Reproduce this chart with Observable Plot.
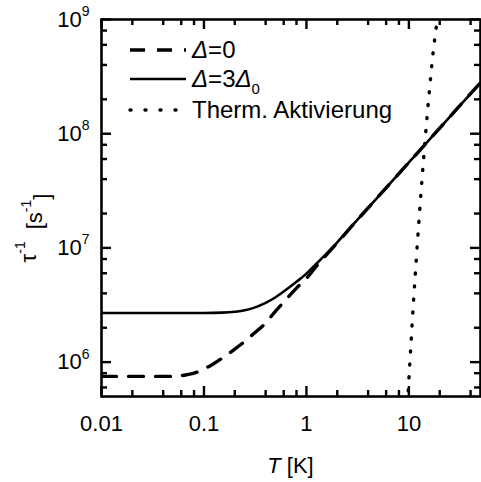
<!DOCTYPE html>
<html>
<head>
<meta charset="utf-8">
<script src="https://cdn.jsdelivr.net/npm/d3@7"></script>
<script src="https://cdn.jsdelivr.net/npm/@observablehq/plot@0.6"></script>
<style>
  html, body { margin: 0; padding: 0; background: #fff; overflow: hidden; }
  #chart svg { display: block; }
</style>
</head>
<body>
<div id="chart"></div>
<script>
// ---- data ----
const xTicks = [0.01, 0.1, 1, 10];
const yTicks = [1e6, 1e7, 1e8, 1e9];
const minorMult = [2, 4, 6, 8];

// Delta = 0 (dashed)
const T_d0 = [0.01, 0.02, 0.03, 0.04, 0.05, 0.06, 0.07, 0.08, 0.1, 0.12, 0.15, 0.2, 0.25, 0.3, 0.4, 0.5, 0.6, 0.8, 1, 1.2, 1.5, 2, 3, 5, 7, 10, 15, 20, 30, 50];
const V_d0 = [7.5e5, 7.5e5, 7.5e5, 7.5e5, 7.5e5, 7.6e5, 7.8e5, 8.0e5, 8.7e5, 9.5e5, 1.08e6, 1.3e6, 1.52e6, 1.75e6, 2.2e6, 2.8e6, 3.35e6, 4.45e6, 5.4e6, 6.6e6, 8.3e6, 1.11e7, 1.68e7, 2.8e7, 3.92e7, 5.6e7, 8.4e7, 1.12e8, 1.68e8, 2.8e8];

// Delta = 3 Delta_0 (solid)
const T_d3 = [0.01, 0.02, 0.05, 0.1, 0.15, 0.2, 0.25, 0.3, 0.4, 0.5, 0.6, 0.8, 1, 1.2, 1.5, 2, 3, 5, 7, 10, 15, 20, 30, 50];
const V_d3 = [2.69e6, 2.69e6, 2.69e6, 2.69e6, 2.71e6, 2.76e6, 2.84e6, 2.97e6, 3.3e6, 3.7e6, 4.15e6, 5.05e6, 5.95e6, 7.0e6, 8.55e6, 1.12e7, 1.68e7, 2.8e7, 3.92e7, 5.6e7, 8.4e7, 1.12e8, 1.68e8, 2.8e8];

// Thermal activation (dotted)
const T_th = [9.7, 10.2, 10.6, 11.1, 11.7, 12.5, 13.4, 14.5, 15.8, 17.3, 18.9, 20];
const V_th = [4.3e5, 9.6e5, 1.72e6, 3.4e6, 7.0e6, 1.66e7, 3.9e7, 9.5e7, 2.3e8, 5.3e8, 1.0e9, 1.5e9];

const legendLabels = ["Δ=0", "Δ=3Δ0", "Therm. Aktivierung"];

// ---- layout ----
const W = 481, H = 482;
const mL = 101, mT = 19, mR = 1, mB = 86;
const fw = W - mL - mR, fh = H - mT - mB;
const FONT = "'Liberation Sans', Arial, sans-serif";

const rows = (T, V) => T.map((t, i) => ({T: t, v: V[i]}));
const minorX = xTicks.flatMap(d => minorMult.map(m => d * m)).filter(v => v < 50);
const minorY = [1e5, 1e6, 1e7, 1e8].flatMap(d => minorMult.map(m => d * m)).filter(v => v > 5e5 && v < 1e9);

const chart = Plot.plot({
  width: W, height: H,
  marginLeft: mL, marginTop: mT, marginRight: mR, marginBottom: mB,
  style: {fontFamily: FONT, background: "white", color: "black"},
  x: {type: "log", domain: [0.01, 50]},
  y: {type: "log", domain: [5e5, 1e9]},
  marks: [
    Plot.line(rows(T_d0, V_d0), {x: "T", y: "v", stroke: "black", strokeWidth: 3.4, strokeDasharray: "15,12", curve: "monotone-x", clip: true}),
    Plot.line(rows(T_d3, V_d3), {x: "T", y: "v", stroke: "black", strokeWidth: 2.6, curve: "monotone-x", clip: true}),
    Plot.line(rows(T_th, V_th), {x: "T", y: "v", stroke: "black", strokeWidth: 3.4, strokeDasharray: "1,12", strokeLinecap: "round", curve: "monotone-x", clip: true}),
    Plot.frame({stroke: "black", strokeWidth: 2.6}),
    Plot.axisX(xTicks, {tickSize: 0, tickPadding: 19, fontSize: 22, tickFormat: d => String(d), label: null}),
    Plot.axisY(yTicks, {tickSize: 0, tickPadding: 12, fontSize: 22, tickFormat: d => "10^" + Math.round(Math.log10(d)), label: null})
  ]
});

document.getElementById("chart").appendChild(chart);
const svg = d3.select(chart);

// inward ticks on all four sides, positioned with Plot's own scales
const sx = chart.scale("x"), sy = chart.scale("y");
const frameL = mL, frameR = W - mR, frameT = mT, frameB = H - mB;
const tg = svg.append("g").attr("stroke", "black").attr("stroke-width", 2.4).attr("fill", "none");
const addX = (vals, len) => vals.forEach(v => {
  const px = sx.apply(v) + 0.5;
  tg.append("line").attr("x1", px).attr("x2", px).attr("y1", frameB).attr("y2", frameB - len);
  tg.append("line").attr("x1", px).attr("x2", px).attr("y1", frameT).attr("y2", frameT + len);
});
const addY = (vals, len) => vals.forEach(v => {
  const py = sy.apply(v) + 0.5;
  tg.append("line").attr("y1", py).attr("y2", py).attr("x1", frameL).attr("x2", frameL + len);
  tg.append("line").attr("y1", py).attr("y2", py).attr("x1", frameR).attr("x2", frameR - len);
});
addX(xTicks, 10); addX(minorX, 6);
addY(yTicks, 10); addY(minorY, 6);

// superscripts on y tick labels
svg.selectAll('g[aria-label="y-axis tick label"] text').each(function() {
  const t = d3.select(this);
  const s = t.text();
  if (!s.includes("^")) return;
  const [base, exp] = s.split("^");
  t.text(null);
  t.append("tspan").text(base);
  t.append("tspan").attr("font-size", 14).attr("dy", "-0.75em").text(exp);
});

// axis titles
const xt = svg.append("text")
  .attr("x", mL + fw / 2).attr("y", 473)
  .attr("text-anchor", "middle").attr("font-family", FONT).attr("font-size", 22).attr("fill", "black");
xt.append("tspan").attr("font-style", "italic").text("T");
xt.append("tspan").text(" [K]");

const yt = svg.append("text")
  .attr("transform", `translate(36,${228}) rotate(-90)`)
  .attr("text-anchor", "middle").attr("font-family", FONT).attr("font-size", 22).attr("fill", "black");
yt.append("tspan").text("τ");
yt.append("tspan").attr("font-size", 14).attr("dy", "-0.8em").text("-1");
yt.append("tspan").attr("dy", "0.8em").attr("dx", 12).text("[s");
yt.append("tspan").attr("font-size", 14).attr("dy", "-0.8em").text("-1");
yt.append("tspan").attr("dy", "0.8em").text("]");

// legend
const lg = svg.append("g").attr("font-family", FONT).attr("font-size", 24).attr("fill", "black").attr("text-anchor", "start");
const rowsY = [50, 79, 110];
const styles = [
  {w: 3.4, dash: "15,12", cap: "butt"},
  {w: 2.6, dash: null, cap: "butt"},
  {w: 3.4, dash: "1,14", cap: "round"}
];
rowsY.forEach((y, i) => {
  lg.append("line").attr("x1", 130).attr("x2", 186).attr("y1", y).attr("y2", y)
    .attr("stroke", "black").attr("stroke-width", styles[i].w)
    .attr("stroke-dasharray", styles[i].dash).attr("stroke-linecap", styles[i].cap);
});
const t0 = lg.append("text").attr("x", 192).attr("y", rowsY[0] + 8);
t0.append("tspan").attr("font-style", "italic").text("Δ");
t0.append("tspan").text("=0");
const t1 = lg.append("text").attr("x", 192).attr("y", rowsY[1] + 8);
t1.append("tspan").attr("font-style", "italic").text("Δ");
t1.append("tspan").text("=3");
t1.append("tspan").attr("font-style", "italic").text("Δ");
t1.append("tspan").attr("font-size", 15).attr("dy", 7).text("0");
lg.append("text").attr("x", 192).attr("y", rowsY[2] + 8).text(legendLabels[2]);
</script>
</body>
</html>
